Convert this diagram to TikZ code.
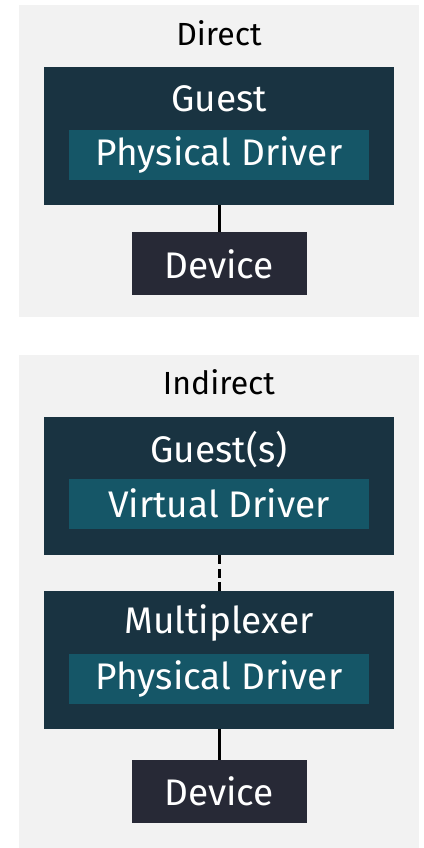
\documentclass[tikz,border=0pt]{standalone}
\usepackage{fontspec}
\setmainfont{Fira Sans}
\definecolor{clusterbg}{HTML}{F2F2F2}
\definecolor{outerc}{HTML}{193341}
\definecolor{innerc}{HTML}{155667}
\definecolor{devc}{HTML}{272936}
\begin{document}
\begin{tikzpicture}[x=1pt,y=-1pt,
  cluster/.style={fill=clusterbg, draw=none, inner sep=0pt, anchor=north west},
  outerbox/.style={fill=outerc, draw=none, inner sep=0pt, anchor=north west, minimum width=350pt, minimum height=138pt},
  innerbox/.style={fill=innerc, draw=none, inner sep=0pt, anchor=north west, minimum width=300pt, minimum height=50pt},
  devbox/.style={fill=devc, draw=none, inner sep=0pt, anchor=north west, minimum width=175pt, minimum height=63pt},
  lbl/.style={text=white, font=\fontsize{37}{42}\selectfont, inner sep=0pt},
  clbl/.style={text=black, font=\fontsize{32}{36}\selectfont, inner sep=0pt},
  link/.style={line width=3pt, draw=black}
]
\useasboundingbox (0,0) rectangle (423,848);
% Direct cluster
\node[cluster, minimum width=400pt, minimum height=312pt] (c1) at (19,5) {};
\node[clbl] (c1lbl) at (219,33) {Direct};
\node[outerbox] (guest) at (44,67) {};
\node[lbl] (guestlbl) at (219,99) {Guest};
\node[innerbox] (pd1) at (69,130) {};
\node[lbl] (pd1lbl) at (219,155) {Physical Driver};
\node[devbox] (dev1) at (131.5,232) {};
\node[lbl] (dev1lbl) at (219,264) {Device};
\draw[link] (guest.south) -- (guest.south |- dev1.north);
% Indirect cluster
\node[cluster, minimum width=400pt, minimum height=493pt] (c2) at (19,355) {};
\node[clbl] (c2lbl) at (219,382) {Indirect};
\node[outerbox] (guests) at (44,417) {};
\node[lbl] (guestslbl) at (219,450) {Guest(s)};
\node[innerbox] (vd) at (69,479) {};
\node[lbl] (vdlbl) at (219,503.5) {Virtual Driver};
\node[outerbox] (mux) at (44,591) {};
\node[lbl] (muxlbl) at (219,623) {Multiplexer};
\node[innerbox] (pd2) at (69,654) {};
\node[lbl] (pd2lbl) at (219,679) {Physical Driver};
\node[devbox] (dev2) at (131.5,760) {};
\node[lbl] (dev2lbl) at (219,791.5) {Device};
\draw[link, dash pattern=on 9pt off 4.5pt] (guests.south) -- (guests.south |- mux.north);
\draw[link] (mux.south) -- (mux.south |- dev2.north);
\end{tikzpicture}
\end{document}
